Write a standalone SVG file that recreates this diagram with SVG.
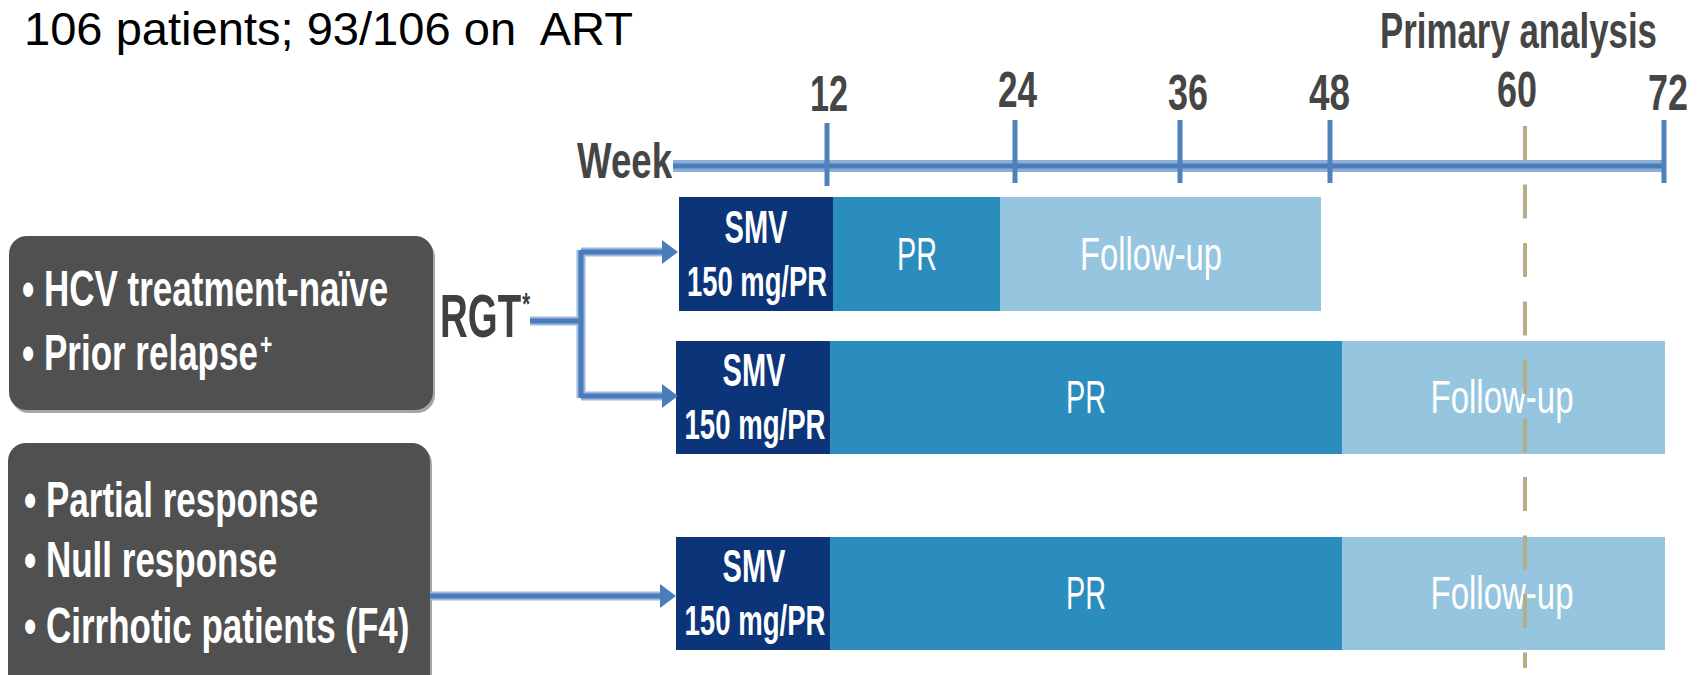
<svg xmlns="http://www.w3.org/2000/svg" width="1702" height="675" viewBox="0 0 1702 675">
  <style>
    text { font-family: "Liberation Sans", Arial, sans-serif; }
    .title { font-size: 46px; fill: #000; white-space: pre; }
    .axis { font-size: 50px; font-weight: bold; fill: #454545; }
    .prim { font-size: 50px; font-weight: bold; fill: #454545; }
    .rgt { font-size: 61px; font-weight: bold; fill: #404040; }
    .pop { font-size: 50px; font-weight: bold; fill: #fff; }
    .smv { font-size: 47px; font-weight: bold; fill: #fff; text-anchor: middle; }
    .dose { font-size: 42px; font-weight: bold; fill: #fff; text-anchor: middle; }
    .seg { font-size: 47px; fill: #fff; text-anchor: middle; }
    .popbox { fill: #505050; }
    .shadow { fill: #a6a6a6; }
    .c-smv { fill: #0b3479; }
    .c-pr { fill: #2b8cbe; }
    .c-fu { fill: #95c5df; }
    .halo { fill: none; stroke: #9db7dd; stroke-width: 9; }
    .core { fill: none; stroke: #4a7ebb; stroke-width: 5; }
    .tick { stroke: #4f81bd; stroke-width: 5; }
    .dash { stroke: #b5ad85; stroke-width: 4; stroke-dasharray: 34 24.5; fill: none; }
  </style>
  <defs>
    <marker id="arrow" markerUnits="userSpaceOnUse" markerWidth="18" markerHeight="26" refX="0" refY="13" orient="auto">
      <path d="M0,1 L16,13 L0,25 Z" fill="#4a7ebb"/>
    </marker>
  </defs>

  <rect width="1702" height="675" fill="#fff"/>

  <g id="title">
    <text class="title" x="24" y="45" textLength="609" lengthAdjust="spacingAndGlyphs">106 patients; 93/106 on  ART</text>
  </g>

  <g id="timeline">
    <text class="axis" x="577" y="178" textLength="95" lengthAdjust="spacingAndGlyphs">Week</text>
    <line x1="673" y1="166" x2="1666" y2="166" stroke="#90add8" stroke-width="12"/>
    <line x1="673" y1="166" x2="1666" y2="166" stroke="#4a7ebb" stroke-width="5"/>
    <line class="tick" x1="827" y1="123" x2="827" y2="186"/>
    <line class="tick" x1="1015" y1="120" x2="1015" y2="183"/>
    <line class="tick" x1="1180" y1="120" x2="1180" y2="183"/>
    <line class="tick" x1="1330" y1="120" x2="1330" y2="183"/>
    <line class="tick" x1="1664" y1="120" x2="1664" y2="183"/>
    <text class="axis" x="810" y="111" textLength="38" lengthAdjust="spacingAndGlyphs">12</text>
    <text class="axis" x="998" y="107" textLength="39" lengthAdjust="spacingAndGlyphs">24</text>
    <text class="axis" x="1168" y="110" textLength="40" lengthAdjust="spacingAndGlyphs">36</text>
    <text class="axis" x="1309" y="110" textLength="41" lengthAdjust="spacingAndGlyphs">48</text>
    <text class="axis" x="1497" y="107" textLength="40" lengthAdjust="spacingAndGlyphs">60</text>
    <text class="axis" x="1648" y="110" textLength="40" lengthAdjust="spacingAndGlyphs">72</text>
    <text class="prim" transform="translate(1380,48) scale(0.697,1)">Primary analysis</text>
  </g>

  <g id="group-naive">
    <rect class="shadow" x="11" y="239" width="424" height="174" rx="18"/>
    <rect class="popbox" x="9" y="236" width="424" height="174" rx="18"/>
    <text class="pop" transform="translate(22,306) scale(0.7,1)">• HCV treatment-naïve</text>
    <text class="pop" transform="translate(22,370) scale(0.7,1)">• Prior relapse<tspan font-size="30" dx="3" dy="-16">+</tspan></text>
  </g>

  <g id="group-nonresponders">
    <rect class="shadow" x="10" y="446" width="422" height="260" rx="18"/>
    <rect class="popbox" x="8" y="443" width="422" height="260" rx="18"/>
    <text class="pop" transform="translate(24,517) scale(0.7,1)">• Partial response</text>
    <text class="pop" transform="translate(24,577) scale(0.7,1)">• Null response</text>
    <text class="pop" transform="translate(24,643) scale(0.7,1)">• Cirrhotic patients (F4)</text>
  </g>

  <g id="rgt">
    <text class="rgt" transform="translate(440,337) scale(0.63,1)">RGT<tspan font-size="32" dx="2" dy="-22">*</tspan></text>
  </g>

  <g id="arm1">
    <rect class="c-smv" x="679" y="197" width="154" height="114"/>
    <rect class="c-pr" x="833" y="197" width="167" height="114"/>
    <rect class="c-fu" x="1000" y="197" width="321" height="114"/>
    <text class="smv" x="756" y="243" textLength="63" lengthAdjust="spacingAndGlyphs">SMV</text>
    <text class="dose" x="757" y="296" textLength="140" lengthAdjust="spacingAndGlyphs">150 mg/PR</text>
    <text class="seg" x="917" y="270" textLength="40" lengthAdjust="spacingAndGlyphs">PR</text>
    <text class="seg" x="1151" y="270" textLength="142" lengthAdjust="spacingAndGlyphs">Follow-up</text>
  </g>

  <g id="arm2">
    <rect class="c-smv" x="676" y="341" width="154" height="113"/>
    <rect class="c-pr" x="830" y="341" width="512" height="113"/>
    <rect class="c-fu" x="1342" y="341" width="323" height="113"/>
    <text class="smv" x="754" y="386" textLength="63" lengthAdjust="spacingAndGlyphs">SMV</text>
    <text class="dose" x="755" y="439" textLength="141" lengthAdjust="spacingAndGlyphs">150 mg/PR</text>
    <text class="seg" x="1086" y="413" textLength="40" lengthAdjust="spacingAndGlyphs">PR</text>
    <text class="seg" x="1502" y="413" textLength="143" lengthAdjust="spacingAndGlyphs">Follow-up</text>
  </g>

  <g id="arm3">
    <rect class="c-smv" x="676" y="537" width="154" height="113"/>
    <rect class="c-pr" x="830" y="537" width="512" height="113"/>
    <rect class="c-fu" x="1342" y="537" width="323" height="113"/>
    <text class="smv" x="754" y="582" textLength="63" lengthAdjust="spacingAndGlyphs">SMV</text>
    <text class="dose" x="755" y="635" textLength="141" lengthAdjust="spacingAndGlyphs">150 mg/PR</text>
    <text class="seg" x="1086" y="609" textLength="40" lengthAdjust="spacingAndGlyphs">PR</text>
    <text class="seg" x="1502" y="609" textLength="143" lengthAdjust="spacingAndGlyphs">Follow-up</text>
  </g>

  <g id="connectors">
    <path class="halo" d="M530,321 H581 M581,250 V398 M581,252 H664 M581,396 H664 M430,596 H662"/>
    <path class="core" d="M530,321 H581 M581,250 V398"/>
    <path class="core" d="M581,252 H662" marker-end="url(#arrow)"/>
    <path class="core" d="M581,396 H662" marker-end="url(#arrow)"/>
    <path class="core" d="M430,596 H660" marker-end="url(#arrow)"/>
  </g>

  <g id="primary-analysis-line">
    <line class="dash" x1="1525" y1="126" x2="1525" y2="668"/>
  </g>
</svg>
